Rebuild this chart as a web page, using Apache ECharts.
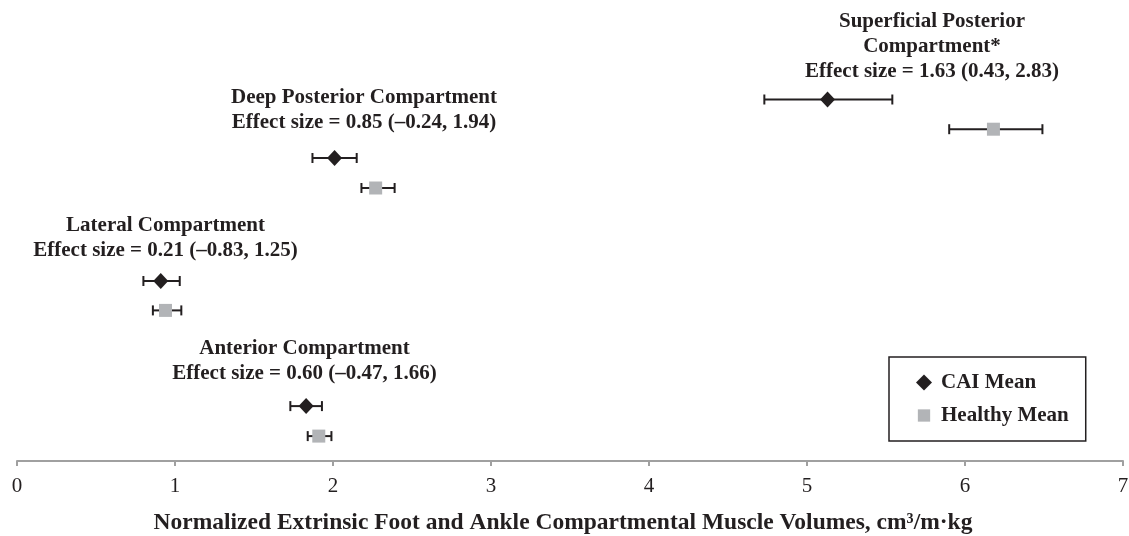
<!DOCTYPE html>
<html>
<head>
<meta charset="utf-8">
<script src="https://cdn.jsdelivr.net/npm/echarts@6/dist/echarts.min.js"></script>
<style>
html,body{margin:0;padding:0;background:#fff;}
#chart{width:1129px;height:536px;}
</style>
</head>
<body>
<div id="chart"></div>
<script>
// ---- data (order: Anterior, Lateral, Deep Posterior, Superficial Posterior) ----
const compartments = ['Anterior Compartment', 'Lateral Compartment', 'Deep Posterior Compartment', 'Superficial Posterior\nCompartment*'];
const effectSizes = ['Effect size = 0.60 (\u20130.47, 1.66)', 'Effect size = 0.21 (\u20130.83, 1.25)', 'Effect size = 0.85 (\u20130.24, 1.94)', 'Effect size = 1.63 (0.43, 2.83)'];
const caiMean = [1.83, 0.91, 2.01, 5.13];
const caiLow = [1.73, 0.80, 1.87, 4.73];
const caiHigh = [1.93, 1.03, 2.15, 5.54];
const healthyMean = [1.91, 0.94, 2.27, 6.18];
const healthyLow = [1.84, 0.86, 2.18, 5.90];
const healthyHigh = [1.99, 1.04, 2.39, 6.49];
// vertical row positions of each series (hidden y axis)
const caiRow = [1.83, 6.0, 10.1, 12.05];
const healthyRow = [0.83, 5.02, 9.1, 11.06];
const xTicks = [0, 1, 2, 3, 4, 5, 6, 7];
const xTitle = 'Normalized Extrinsic Foot and Ankle Compartmental Muscle Volumes, cm\u00b3/m\u00b7kg';

const ink = '#231f20';
const grayMark = '#b2b4b7';
const FONT = '"Liberation Serif", "Times New Roman", serif';

const caiData = caiMean.map((v, i) => [v, caiRow[i]]);
const healthyData = healthyMean.map((v, i) => [v, healthyRow[i]]);
const errData = caiLow.map((v, i) => [v, caiHigh[i], caiRow[i]])
  .concat(healthyLow.map((v, i) => [v, healthyHigh[i], healthyRow[i]]));

function renderErr(params, api) {
  const y = api.value(2);
  const p1 = api.coord([api.value(0), y]);
  const p2 = api.coord([api.value(1), y]);
  const h = 5;
  const style = { stroke: ink, lineWidth: 2 };
  return {
    type: 'group',
    children: [
      { type: 'line', shape: { x1: p1[0], y1: p1[1], x2: p2[0], y2: p2[1] }, style: style },
      { type: 'line', shape: { x1: p1[0], y1: p1[1] - h, x2: p1[0], y2: p1[1] + h }, style: style },
      { type: 'line', shape: { x1: p2[0], y1: p2[1] - h, x2: p2[0], y2: p2[1] + h }, style: style }
    ]
  };
}

// annotation placement (centre x, centre y of text block)
const annPos = [[304.5, 361.5], [165.5, 237.8], [364, 110.5], [932, 46.7]];
const annotations = compartments.map((c, i) => ({
  type: 'text',
  x: annPos[i][0],
  y: annPos[i][1],
  style: {
    text: c + '\n' + effectSizes[i],
    font: 'bold 21px ' + FONT,
    fill: ink,
    textAlign: 'center',
    textVerticalAlign: 'middle',
    lineHeight: 25
  }
}));

const chart = echarts.init(document.getElementById('chart'), null, { renderer: 'canvas' });
chart.setOption({
  animation: false,
  backgroundColor: '#fff',
  grid: { left: 17, right: 6, top: 5, bottom: 75, containLabel: false, outerBoundsMode: 'none' },
  xAxis: {
    type: 'value',
    min: xTicks[0],
    max: xTicks[xTicks.length - 1],
    interval: 1,
    splitLine: { show: false },
    axisLine: { show: true, lineStyle: { color: '#a0a0a0', width: 2 } },
    axisTick: { show: true, length: 5, lineStyle: { color: '#a0a0a0', width: 2 } },
    axisLabel: { margin: 15, fontFamily: FONT, fontSize: 21, color: ink }
  },
  yAxis: { type: 'value', min: 0, max: 15.2, show: false },
  legend: {
    data: [
      { name: 'CAI Mean', icon: 'path://M0,-1L1,0L0,1L-1,0Z' },
      { name: 'Healthy Mean', icon: 'path://M-1.3,-1.3M-1,-1L1,-1L1,1L-1,1ZM1.3,1.3' }
    ],
    orient: 'vertical',
    left: 889,
    top: 357,
    itemWidth: 24,
    itemHeight: 16,
    itemGap: 12,
    padding: [15, 17, 15, 27],
    borderColor: ink,
    borderWidth: 1.5,
    borderRadius: 0,
    selectedMode: false,
    textStyle: { fontFamily: FONT, fontSize: 21, fontWeight: 'bold', color: ink }
  },
  graphic: annotations.concat([{
    type: 'text',
    x: 563,
    y: 523,
    style: {
      text: xTitle,
      font: 'bold 23.5px ' + FONT,
      fill: ink,
      textAlign: 'center',
      textVerticalAlign: 'middle'
    }
  }]),
  series: [
    {
      type: 'custom',
      name: 'error',
      renderItem: renderErr,
      data: errData,
      encode: { x: [0, 1], y: 2 },
      z: 2,
      silent: true
    },
    {
      type: 'scatter',
      name: 'CAI Mean',
      symbol: 'diamond',
      symbolSize: [15, 16],
      itemStyle: { color: ink, opacity: 1 },
      data: caiData,
      z: 5
    },
    {
      type: 'scatter',
      name: 'Healthy Mean',
      symbol: 'rect',
      symbolSize: 13,
      itemStyle: { color: grayMark, opacity: 1 },
      data: healthyData,
      z: 5
    }
  ]
});
</script>
</body>
</html>
